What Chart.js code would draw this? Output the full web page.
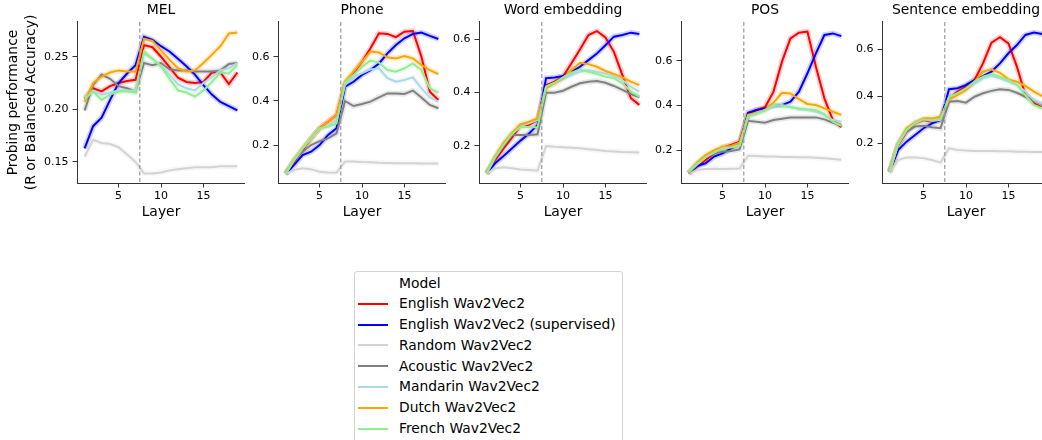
<!DOCTYPE html>
<html>
<head>
<meta charset="utf-8">
<script src="https://cdn.jsdelivr.net/npm/chart.js@4.4.1/dist/chart.umd.min.js"></script>
<style>
  body { margin: 0; width: 1042px; height: 440px; overflow: hidden; background: #fff; position: relative; font-family: "DejaVu Sans", sans-serif; }
  canvas.panel { position: absolute; top: 0; }
  #legend { position: absolute; left: 354px; top: 271px; width: 269px; height: 180px; border: 1px solid #d4d4d4; border-radius: 3px; box-sizing: border-box; padding-top: 0.5px; }
  #legend .row { position: relative; height: 20.8px; font-size: 13.85px; line-height: 20.8px; color: #000; }
  #legend .row span { position: absolute; left: 44px; white-space: nowrap; }
  #legend .row i { position: absolute; left: 3px; top: 9.5px; width: 30px; height: 2px; }
</style>
</head>
<body>
<div id="legend"></div>
<script>
// x values (layers) and tick labels
const layers = [1, 2, 3, 4, 5, 6, 7, 8, 9, 10, 11, 12, 13, 14, 15, 16, 17, 18, 19];
const xTickLabels = ['5', '10', '15'];
const pretrainBoundary = 7.5;

const taskTitles = ['MEL', 'Phone', 'Word embedding', 'POS', 'Sentence embedding'];
const yTickLabels = [['0.15', '0.20', '0.25'], ['0.2', '0.4', '0.6'], ['0.2', '0.4', '0.6'], ['0.2', '0.4', '0.6'], ['0.2', '0.4', '0.6']];
const yMin = [0.130, 0.028, 0.061, 0.054, 0.031];
const yMax = [0.283, 0.758, 0.665, 0.773, 0.716];

const modelNames = ['English Wav2Vec2', 'English Wav2Vec2 (supervised)', 'Random Wav2Vec2', 'Acoustic Wav2Vec2', 'Mandarin Wav2Vec2', 'Dutch Wav2Vec2', 'French Wav2Vec2'];
const modelColors = ['#ff0000', '#0000ff', '#d3d3d3', '#808080', '#add8e6', '#ffa500', '#90ee90'];

// MEL
const melEnglish  = [0.210,0.220,0.217,0.222,0.225,0.227,0.228,0.261,0.259,0.250,0.240,0.230,0.226,0.225,0.226,0.235,0.235,0.224,0.235];
const melSuperv   = [0.163,0.184,0.192,0.209,0.225,0.234,0.242,0.269,0.266,0.260,0.255,0.248,0.241,0.233,0.223,0.214,0.207,0.203,0.199];
const melRandom   = [0.155,0.171,0.168,0.167,0.164,0.157,0.150,0.139,0.139,0.140,0.142,0.143,0.144,0.145,0.145,0.145,0.146,0.146,0.146];
const melAcoustic = [0.199,0.223,0.233,0.229,0.222,0.220,0.217,0.244,0.242,0.244,0.238,0.237,0.237,0.236,0.236,0.236,0.237,0.243,0.244];
const melMandarin = [0.212,0.218,0.214,0.216,0.218,0.218,0.218,0.253,0.248,0.241,0.233,0.224,0.220,0.218,0.225,0.231,0.237,0.239,0.244];
const melDutch    = [0.207,0.225,0.231,0.235,0.237,0.236,0.236,0.267,0.265,0.256,0.247,0.239,0.236,0.237,0.244,0.252,0.260,0.272,0.273];
const melFrench   = [0.210,0.217,0.209,0.214,0.217,0.217,0.216,0.255,0.248,0.241,0.229,0.218,0.216,0.212,0.218,0.226,0.235,0.234,0.242];

// Phone
const phoneEnglish  = [0.069,0.125,0.178,0.230,0.276,0.306,0.336,0.480,0.525,0.578,0.639,0.707,0.704,0.689,0.714,0.717,0.601,0.442,0.404];
const phoneSuperv   = [0.069,0.110,0.155,0.170,0.200,0.246,0.276,0.465,0.487,0.518,0.540,0.570,0.616,0.654,0.684,0.704,0.710,0.695,0.681];
const phoneRandom   = [0.069,0.087,0.095,0.090,0.079,0.076,0.075,0.125,0.125,0.123,0.122,0.120,0.119,0.117,0.117,0.117,0.116,0.116,0.116];
const phoneAcoustic = [0.069,0.132,0.170,0.200,0.218,0.230,0.253,0.400,0.377,0.386,0.397,0.416,0.434,0.434,0.432,0.447,0.416,0.382,0.367];
const phoneMandarin = [0.069,0.132,0.185,0.230,0.276,0.286,0.314,0.472,0.510,0.525,0.543,0.548,0.503,0.487,0.495,0.507,0.457,0.416,0.397];
const phoneDutch    = [0.069,0.132,0.185,0.230,0.276,0.306,0.336,0.487,0.533,0.578,0.624,0.620,0.598,0.593,0.604,0.593,0.563,0.540,0.522];
const phoneFrench   = [0.069,0.132,0.185,0.230,0.276,0.283,0.298,0.483,0.518,0.555,0.583,0.574,0.540,0.533,0.548,0.570,0.540,0.457,0.438];

// Word embedding
const wordEnglish  = [0.097,0.147,0.191,0.232,0.275,0.279,0.297,0.428,0.441,0.460,0.510,0.562,0.616,0.631,0.607,0.553,0.466,0.379,0.354];
const wordSuperv   = [0.097,0.135,0.162,0.191,0.220,0.247,0.279,0.454,0.457,0.462,0.478,0.497,0.522,0.547,0.578,0.610,0.616,0.625,0.620];
const wordRandom   = [0.095,0.116,0.120,0.116,0.112,0.110,0.107,0.200,0.197,0.195,0.193,0.191,0.188,0.185,0.181,0.179,0.177,0.176,0.175];
const wordAcoustic = [0.097,0.154,0.200,0.241,0.241,0.241,0.244,0.400,0.400,0.407,0.422,0.435,0.441,0.444,0.437,0.425,0.410,0.395,0.382];
const wordMandarin = [0.097,0.160,0.210,0.247,0.275,0.285,0.297,0.422,0.435,0.450,0.466,0.478,0.485,0.478,0.472,0.462,0.447,0.422,0.404];
const wordDutch    = [0.097,0.160,0.212,0.250,0.281,0.291,0.303,0.416,0.435,0.454,0.485,0.512,0.507,0.497,0.481,0.470,0.457,0.441,0.428];
const wordFrench   = [0.097,0.157,0.204,0.245,0.272,0.270,0.270,0.422,0.437,0.457,0.475,0.487,0.478,0.470,0.460,0.454,0.435,0.404,0.385];

// POS
const posEnglish  = [0.097,0.127,0.157,0.186,0.212,0.224,0.239,0.361,0.380,0.392,0.462,0.596,0.700,0.725,0.730,0.573,0.432,0.335,0.303];
const posSuperv   = [0.097,0.130,0.142,0.172,0.186,0.209,0.224,0.368,0.380,0.387,0.398,0.402,0.417,0.462,0.544,0.633,0.715,0.722,0.710];
const posRandom   = [0.094,0.112,0.117,0.118,0.117,0.118,0.119,0.176,0.175,0.172,0.172,0.170,0.170,0.169,0.169,0.167,0.164,0.161,0.158];
const posAcoustic = [0.097,0.142,0.172,0.186,0.194,0.197,0.204,0.332,0.328,0.323,0.335,0.341,0.346,0.346,0.347,0.347,0.338,0.323,0.313];
const posMandarin = [0.100,0.137,0.169,0.194,0.209,0.216,0.224,0.350,0.362,0.377,0.398,0.402,0.395,0.383,0.380,0.372,0.358,0.335,0.328];
const posDutch    = [0.100,0.145,0.179,0.201,0.216,0.219,0.234,0.358,0.368,0.380,0.413,0.457,0.454,0.428,0.407,0.402,0.387,0.372,0.358];
const posFrench   = [0.104,0.139,0.169,0.190,0.209,0.213,0.219,0.353,0.365,0.380,0.402,0.398,0.392,0.387,0.383,0.380,0.362,0.328,0.309];

// Sentence embedding
const sentEnglish  = [0.079,0.193,0.249,0.285,0.299,0.292,0.299,0.391,0.420,0.441,0.469,0.540,0.628,0.651,0.625,0.526,0.405,0.370,0.353];
const sentSuperv   = [0.079,0.171,0.207,0.235,0.264,0.285,0.299,0.430,0.434,0.448,0.469,0.486,0.505,0.540,0.583,0.618,0.661,0.671,0.665];
const sentRandom   = [0.072,0.129,0.140,0.140,0.136,0.129,0.118,0.179,0.171,0.169,0.167,0.167,0.167,0.166,0.166,0.164,0.164,0.163,0.163];
const sentAcoustic = [0.079,0.193,0.249,0.271,0.274,0.268,0.264,0.377,0.380,0.373,0.398,0.413,0.423,0.430,0.427,0.415,0.398,0.381,0.363];
const sentMandarin = [0.079,0.197,0.257,0.288,0.302,0.296,0.299,0.398,0.410,0.427,0.452,0.476,0.486,0.476,0.462,0.448,0.420,0.384,0.367];
const sentDutch    = [0.079,0.197,0.264,0.288,0.306,0.306,0.313,0.387,0.405,0.427,0.462,0.505,0.515,0.500,0.472,0.462,0.444,0.420,0.401];
const sentFrench   = [0.079,0.197,0.257,0.285,0.302,0.296,0.302,0.396,0.413,0.434,0.462,0.483,0.495,0.483,0.469,0.448,0.405,0.363,0.349];

const taskSeries = [
  [melEnglish, melSuperv, melRandom, melAcoustic, melMandarin, melDutch, melFrench],
  [phoneEnglish, phoneSuperv, phoneRandom, phoneAcoustic, phoneMandarin, phoneDutch, phoneFrench],
  [wordEnglish, wordSuperv, wordRandom, wordAcoustic, wordMandarin, wordDutch, wordFrench],
  [posEnglish, posSuperv, posRandom, posAcoustic, posMandarin, posDutch, posFrench],
  [sentEnglish, sentSuperv, sentRandom, sentAcoustic, sentMandarin, sentDutch, sentFrench]
];

Chart.defaults.font.family = '"DejaVu Sans", sans-serif';
Chart.defaults.color = '#000';

function hexAlpha(hex, a) {
  const n = parseInt(hex.slice(1), 16);
  return 'rgba(' + (n >> 16) + ',' + ((n >> 8) & 255) + ',' + (n & 255) + ',' + a + ')';
}

// dashed line between CNN feature layers and transformer layers
const boundaryPlugin = {
  id: 'boundary',
  afterDatasetsDraw(chart) {
    const ctx = chart.ctx;
    const x = chart.scales.x.getPixelForValue(pretrainBoundary);
    ctx.save();
    ctx.strokeStyle = '#999';
    ctx.lineWidth = 1.2;
    ctx.setLineDash([4, 2.5]);
    ctx.beginPath();
    ctx.moveTo(x, chart.chartArea.top);
    ctx.lineTo(x, chart.chartArea.bottom);
    ctx.stroke();
    ctx.restore();
  }
};

const PLOT_W = 168;

taskTitles.forEach(function(title, i) {
  const plotLeft = 77 + 201.2 * i;
  const yAxisW = i === 0 ? 77 : 45;
  const canvas = document.createElement('canvas');
  canvas.className = 'panel';
  canvas.width = yAxisW + PLOT_W;
  canvas.height = 225;
  canvas.style.left = (plotLeft - yAxisW) + 'px';
  document.body.appendChild(canvas);

  const datasets = [];
  taskSeries[i].forEach(function(vals, k) {
    const pts = layers.map((l, j) => ({ x: l, y: vals[j] }));
    // soft band under each line
    datasets.push({
      data: pts, borderColor: hexAlpha(modelColors[k], 0.18), borderWidth: 5.5,
      pointRadius: 0, fill: false, tension: 0, order: 20 + (7 - k)
    });
    datasets.push({
      label: modelNames[k], data: pts, borderColor: modelColors[k], borderWidth: 2,
      pointRadius: 0, fill: false, tension: 0, order: 7 - k
    });
  });

  const ticksY = yTickLabels[i].map(parseFloat);

  new Chart(canvas.getContext('2d'), {
    type: 'line',
    data: { datasets: datasets },
    options: {
      responsive: false,
      animation: false,
      events: [],
      layout: { padding: 0 },
      plugins: {
        legend: { display: false },
        tooltip: { enabled: false },
        title: {
          display: true, text: title, fullSize: false, color: '#000',
          font: { size: 13.9, weight: 'normal', lineHeight: 1.15 },
          padding: { top: 2, bottom: 4 }
        }
      },
      scales: {
        x: {
          type: 'linear', min: 0.1, max: 19.9,
          afterBuildTicks: function(scale) { scale.ticks = xTickLabels.map(t => ({ value: parseFloat(t) })); },
          afterFit: function(scale) { scale.height = 42; },
          ticks: { font: { size: 11 }, padding: 2, maxRotation: 0, autoSkip: false, color: '#000' },
          grid: { drawOnChartArea: false, drawTicks: true, tickLength: 4.5, color: '#333' },
          border: { display: true, color: '#333', width: 1 },
          title: { display: true, text: 'Layer', color: '#000', font: { size: 13.9 }, padding: { top: 0, bottom: 4.7 } }
        },
        y: {
          min: yMin[i], max: yMax[i],
          afterBuildTicks: function(scale) { scale.ticks = ticksY.map(v => ({ value: v })); },
          afterFit: function(scale) { scale.width = yAxisW; },
          ticks: {
            font: { size: 11 }, padding: 4, autoSkip: false, color: '#000',
            callback: function(v) { return yTickLabels[i][ticksY.indexOf(v)]; }
          },
          grid: { drawOnChartArea: false, drawTicks: true, tickLength: 4.5, color: '#333' },
          border: { display: true, color: '#333', width: 1 },
          title: {
            display: i === 0, text: ['Probing performance', '(R or Balanced Accuracy)'], color: '#000',
            font: { size: 13.9, lineHeight: 1.3 }, padding: { top: 4, bottom: 0 }
          }
        }
      }
    },
    plugins: [boundaryPlugin]
  });
});

// legend below the panels
const legend = document.getElementById('legend');
legend.innerHTML = '<div class="row"><span>Model</span></div>';
modelNames.forEach(function(name, k) {
  const row = document.createElement('div');
  row.className = 'row';
  row.innerHTML = '<i style="background:' + modelColors[k] + '"></i><span></span>';
  row.querySelector('span').textContent = name;
  legend.appendChild(row);
});
</script>
</body>
</html>
